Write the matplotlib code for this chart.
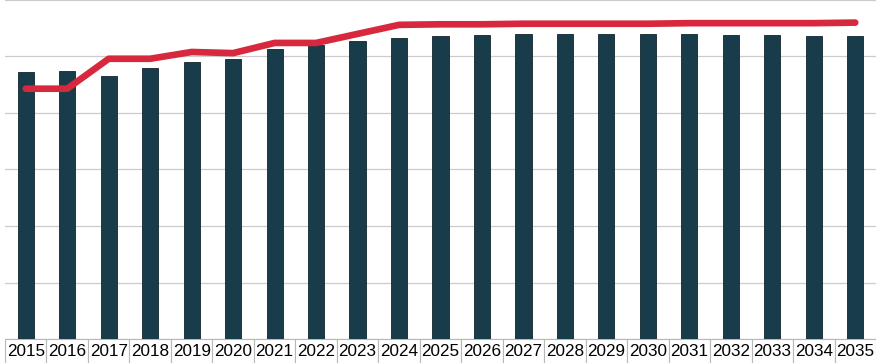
import matplotlib.pyplot as plt

# data (units: 100 per grid step)
years = [str(y) for y in range(2015, 2036)]
bars = [473, 475, 466, 480, 491, 496, 514, 521, 528, 533, 536,
        538, 540, 540, 540, 540, 539, 538, 538, 537, 536]
line = [443, 443, 496, 496, 508, 506, 524, 524, 540, 556, 557,
        557, 558, 558, 558, 558, 559, 559, 559, 559, 560]

plt.rcParams['font.family'] = ['Liberation Sans', 'DejaVu Sans']

fig = plt.figure(figsize=(8.76, 3.63), dpi=100)
ax = fig.add_axes([5 / 876, 24 / 363, 871 / 876, 339 / 363])

x = list(range(len(years)))
ax.bar(x, bars, width=0.39, color='#183c4a', edgecolor='#10252e',
       linewidth=0.6, zorder=2)
ax.plot(x, line, color='#d8283e', linewidth=4.8, solid_capstyle='round',
        solid_joinstyle='round', zorder=3)

ax.set_xlim(-0.5, len(years) - 0.5)
ax.set_ylim(0, 600)
ax.set_yticks(range(0, 601, 100))
ax.yaxis.grid(True, color='#cccccc', linewidth=0.9, zorder=0)
ax.set_axisbelow(True)
ax.set_xticks([])
ax.tick_params(left=False, labelleft=False)
for s in ax.spines.values():
    s.set_visible(False)

# year labels as a data-table row under the plot (bottom edge falls off the figure)
h = 25 / 339
tbl = ax.table(cellText=[years], cellLoc='center', bbox=[0, -h, 1, h])
tbl.auto_set_font_size(False)
tbl.set_fontsize(12.3)
for cell in tbl.get_celld().values():
    cell.set_edgecolor('#b8b8b8')
    cell.set_linewidth(0.8)

fig.savefig('out.png', dpi=100)
